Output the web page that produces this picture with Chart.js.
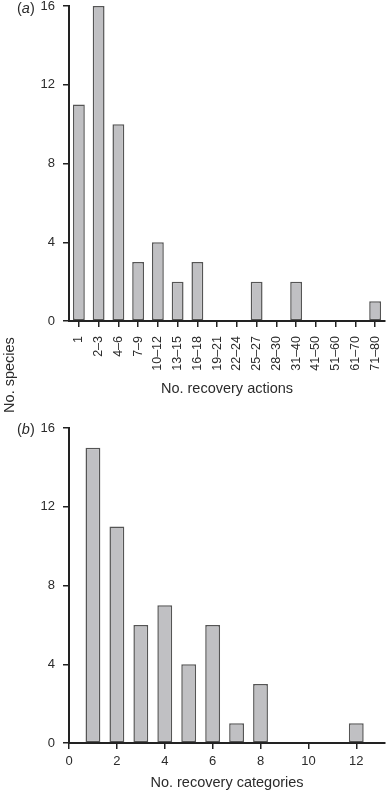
<!DOCTYPE html>
<html lang="en">
<head>
    <meta charset="UTF-8">
    <title>Recovery actions and categories per species</title>
    <script src="https://cdn.jsdelivr.net/npm/chart.js"></script>
    <style>
        body {
            margin: 0;
            background: #ffffff;
            font-family: 'Liberation Sans', Arial, sans-serif;
            color: #2b2b2b;
        }
        .figure {
            position: relative;
            width: 387px;
            height: 792px;
            overflow: hidden;
        }
        .figure canvas {
            position: absolute;
            left: 0;
        }
        .panel-label {
            position: absolute;
            left: 17px;
            font-size: 14.5px;
            line-height: 1;
            white-space: nowrap;
        }
        .y-title {
            position: absolute;
            left: 9px;
            top: 375px;
            font-size: 14.5px;
            white-space: nowrap;
            transform: translate(-50%, -50%) rotate(-90deg);
        }
    </style>
</head>
<body>
    <div class="figure">
        <canvas id="chart-actions" width="387" height="400" style="top:0"></canvas>
        <canvas id="chart-categories" width="387" height="392" style="top:400px"></canvas>
        <div class="panel-label" style="top:1px">(<i>a</i>)</div>
        <div class="panel-label" style="top:422px">(<i>b</i>)</div>
        <div class="y-title">No. species</div>
    </div>

    <script>
        // panel (a): number of recovery actions
        const actionLabels = ['1', '2–3', '4–6', '7–9', '10–12', '13–15', '16–18', '19–21',
            '22–24', '25–27', '28–30', '31–40', '41–50', '51–60', '61–70', '71–80'];
        const actionCounts = [11, 16, 10, 3, 4, 2, 3, 0, 0, 2, 0, 2, 0, 0, 0, 1];

        // panel (b): number of recovery categories
        const categoryValues = [1, 2, 3, 4, 5, 6, 7, 8, 12];
        const categoryCounts = [15, 11, 6, 7, 4, 6, 1, 3, 1];

        const yTicks = [0, 4, 8, 12, 16];

        const axisColor = '#222222';
        const textColor = '#2b2b2b';
        const barFill = '#c0c0c3';
        const barEdge = '#555555';
        const fontFamily = "'Liberation Sans', Arial, sans-serif";

        function yScale(width) {
            return {
                min: 0,
                max: 16,
                afterBuildTicks: scale => { scale.ticks = yTicks.map(v => ({ value: v })); },
                afterFit: scale => {
                    scale.width = width;
                    scale.paddingTop = 0;
                    scale.paddingBottom = 0;
                },
                border: { display: true, color: axisColor, width: 2 },
                grid: {
                    display: true,
                    drawOnChartArea: false,
                    drawTicks: true,
                    tickLength: 6,
                    color: axisColor,
                    lineWidth: 1.5
                },
                ticks: {
                    color: textColor,
                    padding: 8,
                    font: { family: fontFamily, size: 13 }
                }
            };
        }

        function baseOptions(padTop) {
            return {
                responsive: false,
                animation: false,
                layout: { padding: { top: padTop, right: 2, left: 0, bottom: 0 } },
                plugins: {
                    legend: { display: false },
                    tooltip: { enabled: false }
                }
            };
        }

        // (a)
        const optsA = baseOptions(6);
        optsA.scales = {
            x: {
                type: 'category',
                offset: true,
                afterFit: scale => {
                    scale.height = 79;
                    scale.paddingLeft = 0;
                    scale.paddingRight = 0;
                },
                border: { display: true, color: axisColor, width: 2 },
                grid: {
                    display: true,
                    offset: false,
                    drawOnChartArea: false,
                    drawTicks: true,
                    tickLength: 6,
                    color: axisColor,
                    lineWidth: 1.5
                },
                ticks: {
                    color: textColor,
                    autoSkip: false,
                    minRotation: 90,
                    maxRotation: 90,
                    padding: 9,
                    font: { family: fontFamily, size: 12.5 }
                },
                title: {
                    display: true,
                    text: 'No. recovery actions',
                    color: textColor,
                    padding: { top: 4, bottom: 2 },
                    font: { family: fontFamily, size: 14.5 }
                }
            },
            y: yScale(69)
        };

        new Chart(document.getElementById('chart-actions'), {
            type: 'bar',
            data: {
                labels: actionLabels,
                datasets: [{
                    data: actionCounts,
                    backgroundColor: barFill,
                    borderColor: barEdge,
                    borderWidth: 1.5,
                    borderSkipped: false,
                    categoryPercentage: 1,
                    barPercentage: 0.6
                }]
            },
            options: optsA
        });

        // (b)
        const optsB = baseOptions(28);
        optsB.scales = {
            x: {
                type: 'linear',
                min: 0,
                max: 13.2,
                offset: false,
                afterFit: scale => {
                    scale.height = 49;
                    scale.paddingLeft = 0;
                    scale.paddingRight = 0;
                },
                border: { display: true, color: axisColor, width: 2 },
                grid: {
                    display: true,
                    offset: false,
                    drawOnChartArea: false,
                    drawTicks: true,
                    tickLength: 6,
                    color: axisColor,
                    lineWidth: 1.5
                },
                ticks: {
                    color: textColor,
                    stepSize: 2,
                    includeBounds: false,
                    maxRotation: 0,
                    padding: 5,
                    font: { family: fontFamily, size: 13 }
                },
                title: {
                    display: true,
                    text: 'No. recovery categories',
                    color: textColor,
                    padding: { top: 4, bottom: 0 },
                    font: { family: fontFamily, size: 14.5 }
                }
            },
            y: yScale(69)
        };

        new Chart(document.getElementById('chart-categories'), {
            type: 'bar',
            data: {
                datasets: [{
                    data: categoryValues.map((v, i) => ({ x: v, y: categoryCounts[i] })),
                    backgroundColor: barFill,
                    borderColor: barEdge,
                    borderWidth: 1.5,
                    borderSkipped: false,
                    categoryPercentage: 1,
                    barPercentage: 0.62
                }]
            },
            options: optsB
        });
    </script>
</body>
</html>
